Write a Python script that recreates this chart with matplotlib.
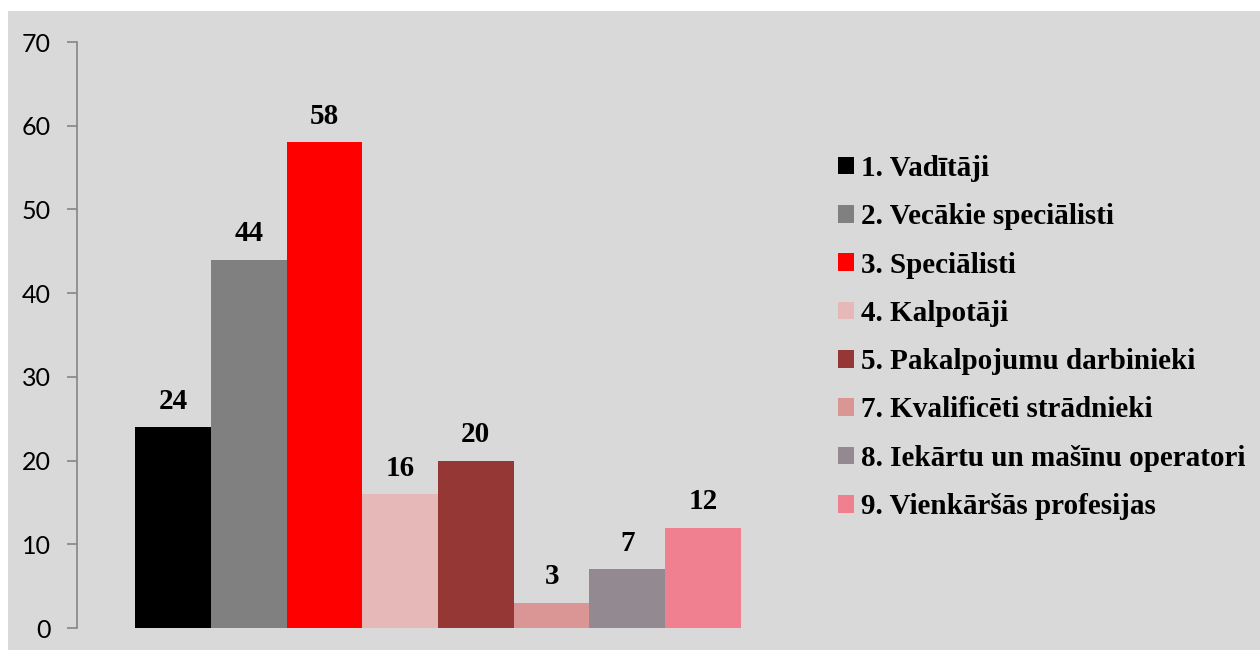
import matplotlib
matplotlib.use("Agg")
import matplotlib.pyplot as plt
from matplotlib.patches import Rectangle

categories = ["1. Vadītāji", "2. Vecākie speciālisti", "3. Speciālisti", "4. Kalpotāji",
              "5. Pakalpojumu darbinieki", "7. Kvalificēti strādnieki",
              "8. Iekārtu un mašīnu operatori", "9. Vienkāršās profesijas"]
values = [24, 44, 58, 16, 20, 3, 7, 12]
colors = ["#000000", "#808080", "#FF0000", "#E6B9B8", "#953735", "#D99694", "#938A91", "#F0808F"]
yticks = [0, 10, 20, 30, 40, 50, 60, 70]

W, H = 1260, 650
fig = plt.figure(figsize=(W / 100, H / 100), dpi=100)
fig.patch.set_facecolor("white")
fig.patches.append(Rectangle((8 / W, 0), 1 - 8 / W, 1 - 11 / H, transform=fig.transFigure,
                             facecolor="#D9D9D9", edgecolor="none", zorder=-10))

ax = fig.add_axes([77 / W, 1 - 628 / H, (799 - 77) / W, (628 - 42) / H])
ax.set_facecolor("none")

serif = ["Liberation Serif", "DejaVu Serif"]
handles = []
for i, (c, v, col) in enumerate(zip(categories, values, colors)):
    b = ax.bar(i, v, width=1.0, color=col, label=c)
    ax.bar_label(b, labels=[str(v)], padding=9, fontsize=21, fontweight="bold", family=serif)
    handles.append(b)

ax.set_xlim(-1.266, 8.266)
ax.set_ylim(0, 70)
ax.set_yticks(yticks)
ax.set_xticks([])
for s in ["top", "right", "bottom"]:
    ax.spines[s].set_visible(False)
ax.spines["left"].set_color("#868686")
ax.spines["left"].set_linewidth(1.2)
ax.tick_params(axis="y", length=7, width=1.2, color="#868686", labelsize=18, pad=12,
               labelcolor="#000000")
for t in ax.get_yticklabels():
    t.set_family(["Lato", "DejaVu Sans"])

leg = fig.legend(handles=handles, labels=categories, loc="upper left",
                 bbox_to_anchor=(838 / W, 1 - 155 / H), frameon=False,
                 prop={"family": serif, "weight": "bold", "size": 21},
                 handlelength=0.55, handleheight=0.55, handletextpad=0.25,
                 labelspacing=0.73, borderpad=0, borderaxespad=0)

fig.savefig("out.png", dpi=100)
